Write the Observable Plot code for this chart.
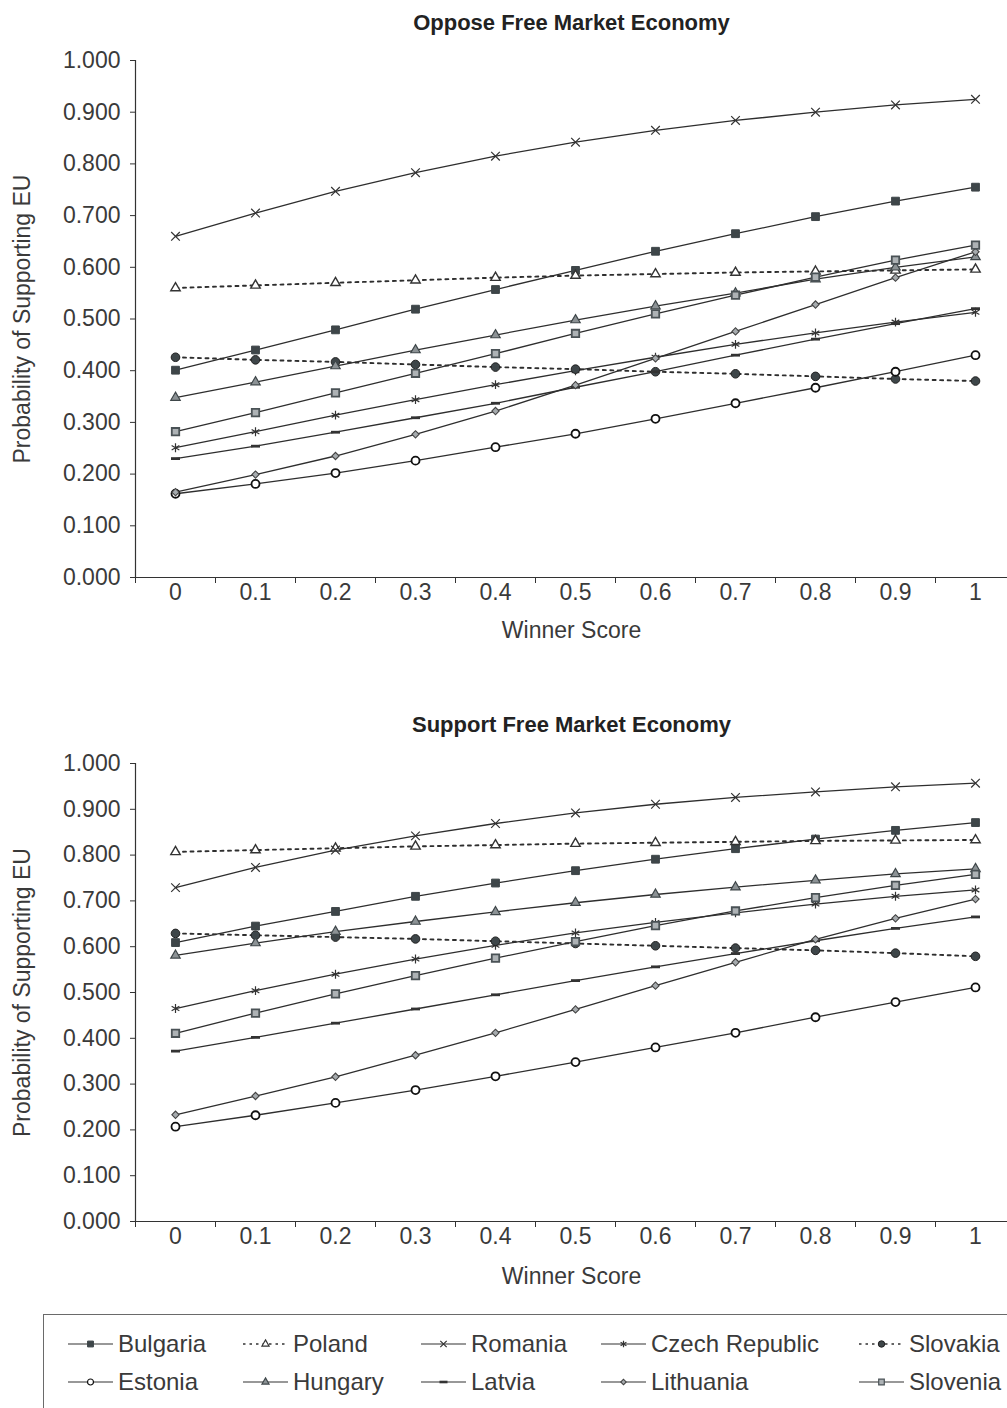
<!DOCTYPE html>
<html>
<head>
<meta charset="utf-8">
<script src="https://cdn.jsdelivr.net/npm/d3@7"></script>
<script src="https://cdn.jsdelivr.net/npm/@observablehq/plot@0.6"></script>
<style>
  body { margin: 0; width: 1007px; height: 1408px; overflow: hidden; position: relative; background: #fff;
         font-family: "Liberation Sans", Arial, Helvetica, sans-serif; color: #3a3a3a; }
  .chart { position: absolute; left: 0; }
  #legend { position: absolute; left: 43px; top: 1314px; width: 1100px; height: 200px;
            border: 1.5px solid #6a6a6a; box-sizing: border-box; }
  .item { position: absolute; display: flex; align-items: center; height: 30px; font-size: 24px; color: #3a3a3a; white-space: nowrap; }
  .item svg { margin-right: 5px; }
</style>
</head>
<body>
<div id="top" class="chart" style="top:0"></div>
<div id="bottom" class="chart" style="top:700px"></div>
<div id="legend"></div>
<script>
// ---------- data ----------
const winnerScore = [0, 0.1, 0.2, 0.3, 0.4, 0.5, 0.6, 0.7, 0.8, 0.9, 1];
const yTicks = [0, 0.1, 0.2, 0.3, 0.4, 0.5, 0.6, 0.7, 0.8, 0.9, 1.0];
const countries = ["Bulgaria", "Poland", "Romania", "Czech Republic", "Slovakia",
                   "Estonia", "Hungary", "Latvia", "Lithuania", "Slovenia"];
const chartTitles = ["Oppose Free Market Economy", "Support Free Market Economy"];
const xLabel = "Winner Score";
const yLabel = "Probability of Supporting EU";

// Oppose Free Market Economy
const opposeBulgaria  = [0.401, 0.440, 0.479, 0.519, 0.557, 0.594, 0.631, 0.665, 0.698, 0.728, 0.755];
const opposePoland    = [0.560, 0.565, 0.570, 0.575, 0.580, 0.584, 0.587, 0.590, 0.592, 0.594, 0.596];
const opposeRomania   = [0.660, 0.705, 0.747, 0.783, 0.815, 0.842, 0.865, 0.884, 0.900, 0.914, 0.925];
const opposeCzech     = [0.251, 0.282, 0.314, 0.344, 0.373, 0.400, 0.426, 0.451, 0.473, 0.494, 0.513];
const opposeSlovakia  = [0.426, 0.421, 0.417, 0.412, 0.407, 0.403, 0.398, 0.394, 0.389, 0.384, 0.380];
const opposeEstonia   = [0.162, 0.181, 0.202, 0.226, 0.252, 0.278, 0.307, 0.337, 0.367, 0.398, 0.430];
const opposeHungary   = [0.348, 0.378, 0.409, 0.440, 0.469, 0.498, 0.525, 0.550, 0.577, 0.600, 0.620];
const opposeLatvia    = [0.230, 0.254, 0.281, 0.309, 0.337, 0.368, 0.398, 0.430, 0.461, 0.491, 0.520];
const opposeLithuania = [0.165, 0.199, 0.235, 0.277, 0.322, 0.372, 0.424, 0.476, 0.528, 0.580, 0.630];
const opposeSlovenia  = [0.282, 0.319, 0.357, 0.395, 0.433, 0.472, 0.510, 0.546, 0.581, 0.614, 0.643];

// Support Free Market Economy
const supportBulgaria  = [0.609, 0.645, 0.677, 0.710, 0.739, 0.766, 0.791, 0.814, 0.835, 0.854, 0.871];
const supportPoland    = [0.807, 0.811, 0.815, 0.819, 0.822, 0.825, 0.827, 0.829, 0.831, 0.832, 0.833];
const supportRomania   = [0.729, 0.773, 0.811, 0.842, 0.869, 0.892, 0.911, 0.926, 0.938, 0.949, 0.957];
const supportCzech     = [0.465, 0.504, 0.540, 0.573, 0.603, 0.630, 0.653, 0.674, 0.693, 0.710, 0.724];
const supportSlovakia  = [0.629, 0.625, 0.621, 0.617, 0.612, 0.607, 0.602, 0.597, 0.592, 0.586, 0.579];
const supportEstonia   = [0.207, 0.232, 0.259, 0.287, 0.317, 0.348, 0.380, 0.412, 0.446, 0.479, 0.511];
const supportHungary   = [0.581, 0.608, 0.633, 0.655, 0.676, 0.696, 0.714, 0.730, 0.745, 0.759, 0.770];
const supportLatvia    = [0.372, 0.402, 0.433, 0.464, 0.495, 0.526, 0.556, 0.585, 0.613, 0.640, 0.665];
const supportLithuania = [0.233, 0.274, 0.316, 0.363, 0.412, 0.463, 0.515, 0.566, 0.616, 0.662, 0.704];
const supportSlovenia  = [0.411, 0.455, 0.497, 0.537, 0.575, 0.611, 0.646, 0.678, 0.707, 0.734, 0.758];

const opposeSeries  = [opposeBulgaria, opposePoland, opposeRomania, opposeCzech, opposeSlovakia,
                       opposeEstonia, opposeHungary, opposeLatvia, opposeLithuania, opposeSlovenia];
const supportSeries = [supportBulgaria, supportPoland, supportRomania, supportCzech, supportSlovakia,
                       supportEstonia, supportHungary, supportLatvia, supportLithuania, supportSlovenia];

// ---------- styles ----------
const dashSymbol = { draw(ctx, size) { ctx.rect(-4.5, -1.4, 9, 2.8); } };
const dashSymbolSmall = { draw(ctx, size) { ctx.rect(-4, -1.3, 8, 2.6); } };
const DOT = "3,4.5";
const styles = {
  "Bulgaria":       { dash: null, symbol: "square",   r: 4.4, fill: "#3e4649", stroke: "#3e4649", sw: 1 },
  "Poland":         { dash: DOT,  symbol: "triangle", r: 3.5, fill: "#ffffff", stroke: "#333",    sw: 1.4 },
  "Romania":        { dash: null, symbol: "times",    r: 4.0, fill: "none",    stroke: "#333",    sw: 1.2 },
  "Czech Republic": { dash: null, symbol: "asterisk", r: 4.2, fill: "none",    stroke: "#333",    sw: 1.2 },
  "Slovakia":       { dash: DOT,  symbol: "circle",   r: 4.3, fill: "#3e4649", stroke: "#222",    sw: 1 },
  "Estonia":        { dash: null, symbol: "circle",   r: 4.0, fill: "#ffffff", stroke: "#111",    sw: 1.8 },
  "Hungary":        { dash: null, symbol: "triangle", r: 3.5, fill: "#8c9295", stroke: "#3e4649", sw: 1.2 },
  "Latvia":         { dash: null, symbol: dashSymbol, r: 4,   fill: "#333",    stroke: "none",    sw: 0 },
  "Lithuania":      { dash: null, symbol: "square",   r: 2.9, fill: "#a6abae", stroke: "#444",    sw: 1.1, rotate: 45 },
  "Slovenia":       { dash: null, symbol: "square",   r: 4.2, fill: "#adb2b5", stroke: "#4a5256", sw: 1.8 }
};

const fontFamily = '"Liberation Sans", Arial, Helvetica, sans-serif';
const xBoundaries = winnerScore.map(d => +(d - 0.05).toFixed(2));

function makeChart(title, series, h, mTop, mBottom, titleY, xLabelDy) {
  const marks = [];
  marks.push(Plot.ruleY([0], { stroke: "#333", strokeWidth: 1.2 }));
  marks.push(Plot.ruleX([-0.05], { y1: 0, y2: 1, stroke: "#333", strokeWidth: 1.2 }));
  marks.push(Plot.axisY({ ticks: yTicks, tickFormat: d3.format(".3f"), tickSize: 5, tickPadding: 10,
                          fontSize: 23, label: null, stroke: "#333" }));
  marks.push(Plot.axisX({ ticks: xBoundaries, tickSize: 6, tickFormat: () => "", label: null, stroke: "#333" }));
  marks.push(Plot.axisX({ ticks: winnerScore, tickSize: 0, tickPadding: 6, tickFormat: d => String(d),
                          fontSize: 23, label: null }));
  countries.forEach((c, i) => {
    const data = winnerScore.map((x, j) => ({ country: c, x, y: series[i][j] }));
    const s = styles[c];
    marks.push(Plot.line(data, { x: "x", y: "y", stroke: "#2e2e2e", strokeWidth: s.dash ? 1.9 : 1.3,
                                 strokeDasharray: s.dash || undefined }));
  });
  countries.forEach((c, i) => {
    const data = winnerScore.map((x, j) => ({ country: c, x, y: series[i][j] }));
    const s = styles[c];
    marks.push(Plot.dot(data, { x: "x", y: "y", symbol: s.symbol, r: s.r, fill: s.fill,
                                stroke: s.stroke, strokeWidth: s.sw, rotate: s.rotate || 0 }));
  });
  marks.push(Plot.text([title], { frameAnchor: "top", lineAnchor: "middle", dy: titleY - mTop,
                                  fontWeight: "bold", fontSize: 22, fill: "#222" }));
  marks.push(Plot.text([xLabel], { frameAnchor: "bottom", lineAnchor: "middle", dy: xLabelDy, fontSize: 23 }));
  marks.push(Plot.text([yLabel], { frameAnchor: "left", dx: -113, rotate: -90, textAnchor: "middle",
                                   lineAnchor: "middle", fontSize: 23 }));
  return Plot.plot({
    width: 1007, height: h,
    marginLeft: 135, marginRight: 0, marginTop: mTop, marginBottom: mBottom,
    x: { type: "linear", domain: [-0.05, 1.05], range: [135, 1015] },
    y: { domain: [0, 1] },
    style: { fontFamily, color: "#3a3a3a", background: "white", overflow: "visible" },
    marks
  });
}

document.getElementById("top").append(makeChart(chartTitles[0], opposeSeries, 700, 60, 123, 22, 53));
document.getElementById("bottom").append(makeChart(chartTitles[1], supportSeries, 590, 63, 69, 24, 55));

// ---------- legend ----------
const legendPos = [
  [24, 14], [199, 14], [377, 14], [557, 14], [815, 14],
  [24, 52], [199, 52], [377, 52], [557, 52], [815, 52]
];
const legendOrder = ["Bulgaria", "Poland", "Romania", "Czech Republic", "Slovakia",
                     "Estonia", "Hungary", "Latvia", "Lithuania", "Slovenia"];
const legendSym = {
  "square": d3.symbolSquare, "triangle": d3.symbolTriangle, "times": d3.symbolTimes,
  "asterisk": d3.symbolAsterisk, "circle": d3.symbolCircle, "diamond": d3.symbolDiamond
};
const legend = d3.select("#legend");
legendOrder.forEach((c, i) => {
  const s = styles[c];
  const it = legend.append("div").attr("class", "item")
    .style("left", legendPos[i][0] + "px").style("top", legendPos[i][1] + "px");
  const w = 45;
  const svg = it.append("svg").attr("width", w).attr("height", 20);
  svg.append("line").attr("x1", 0).attr("x2", w).attr("y1", 10).attr("y2", 10)
    .attr("stroke", "#333").attr("stroke-width", s.dash ? 1.6 : 1.2)
    .attr("stroke-dasharray", s.dash ? "2.5,4" : null);
  const type = typeof s.symbol === "string" ? legendSym[s.symbol] : dashSymbolSmall;
  const size = typeof s.symbol === "string" ? Math.PI * (s.r * 0.75) ** 2 : 30;
  svg.append("path").attr("transform", `translate(${w / 2},10) rotate(${s.rotate || 0})`)
    .attr("d", d3.symbol(type, size)())
    .attr("fill", s.fill).attr("stroke", s.stroke).attr("stroke-width", Math.min(s.sw, 1.2));
  it.append("span").text(c);
});
</script>
</body>
</html>
